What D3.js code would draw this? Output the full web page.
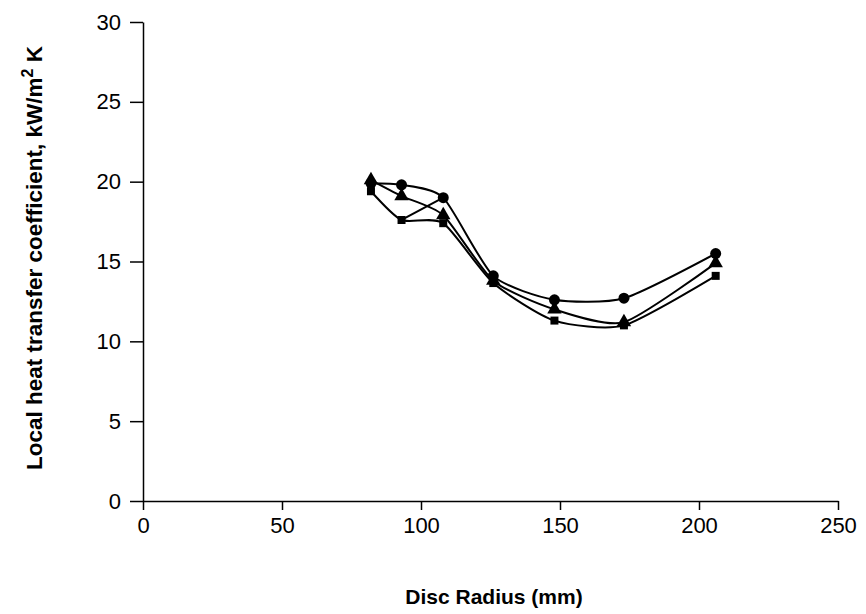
<!DOCTYPE html>
<html>
<head>
<script src="https://cdn.jsdelivr.net/npm/d3@7"></script>
<style>
body { margin: 0; background: #fff; }
text { font-family: "Liberation Sans", Arial, sans-serif; fill: #000; }
.axis path, .axis line { stroke: #000; stroke-width: 1.5; }
.axis text { font-size: 22px; }
.title { font-weight: bold; }
.series { fill: none; stroke: #000; stroke-width: 2; }
</style>
</head>
<body>
<div id="chart"></div>
<script>
// radius (mm) and heat transfer coefficient (kW/m2 K)
var radius = [82, 93, 108, 126, 148, 173, 206];
var circleVals = [19.9, 19.8, 19.0, 14.1, 12.6, 12.7, 15.5];
var triangleVals = [20.1, 19.1, 17.9, 13.8, 12.0, 11.2, 14.9];
var squareVals = [19.4, 17.6, 17.4, 13.65, 11.3, 11.0, 14.1];
// short extra trace running from the square at 93 up to the circle at 108
var crossRadius = [93, 108];
var crossVals = [17.6, 19.0];

var xTicks = [0, 50, 100, 150, 200, 250];
var yTicks = [0, 5, 10, 15, 20, 25, 30];

var w = 866, h = 614,
    margin = {top: 22, right: 28, bottom: 113, left: 143},
    iw = w - margin.left - margin.right,
    ih = h - margin.top - margin.bottom;

var svg = d3.select("#chart").append("svg")
    .attr("width", w)
    .attr("height", h);

var g = svg.append("g")
    .attr("transform", "translate(" + margin.left + "," + margin.top + ")");

var x = d3.scaleLinear().domain([0, 250]).range([0, iw]);
var y = d3.scaleLinear().domain([0, 30]).range([ih, 0]);

g.append("g")
    .attr("class", "axis")
    .attr("transform", "translate(0," + ih + ")")
    .call(d3.axisBottom(x).tickValues(xTicks).tickSize(9).tickSizeOuter(0).tickPadding(7));

g.append("g")
    .attr("class", "axis")
    .call(d3.axisLeft(y).tickValues(yTicks).tickSize(13).tickSizeOuter(0).tickPadding(9));

svg.append("text")
    .attr("class", "title")
    .attr("font-size", "21px")
    .attr("x", 494)
    .attr("y", 604)
    .attr("text-anchor", "middle")
    .text("Disc Radius (mm)");

var yt = svg.append("text")
    .attr("class", "title")
    .attr("font-size", "22.5px")
    .attr("text-anchor", "middle")
    .attr("transform", "translate(42,258) rotate(-90)");
yt.append("tspan").text("Local heat transfer coefficient, kW/m");
yt.append("tspan").attr("dy", -9).attr("font-size", "16px").text("2");
yt.append("tspan").attr("dy", 9).text(" K");

var line = d3.line()
    .x(function(d) { return x(d[0]); })
    .y(function(d) { return y(d[1]); })
    .curve(d3.curveCardinal.tension(0.35));

function pairs(xs, ys) {
  return xs.map(function(d, i) { return [d, ys[i]]; });
}

var series = [
  {name: "square", pts: pairs(radius, squareVals)},
  {name: "triangle", pts: pairs(radius, triangleVals)},
  {name: "circle", pts: pairs(radius, circleVals)},
  {name: "cross", pts: pairs(crossRadius, crossVals)}
];

g.selectAll("path.series")
    .data(series)
  .enter().append("path")
    .attr("class", "series")
    .attr("d", function(d) { return line(d.pts); });

var symbols = {
  circle: d3.symbol().type(d3.symbolCircle).size(95),
  triangle: d3.symbol().type(d3.symbolTriangle).size(90),
  square: d3.symbol().type(d3.symbolSquare).size(64)
};

series.filter(function(s) { return s.name !== "cross"; }).forEach(function(s) {
  g.selectAll("path.m-" + s.name)
      .data(s.pts)
    .enter().append("path")
      .attr("class", "m-" + s.name)
      .attr("transform", function(d) { return "translate(" + x(d[0]) + "," + y(d[1]) + ")"; })
      .attr("d", symbols[s.name]())
      .attr("fill", "#000");
});
</script>
</body>
</html>
